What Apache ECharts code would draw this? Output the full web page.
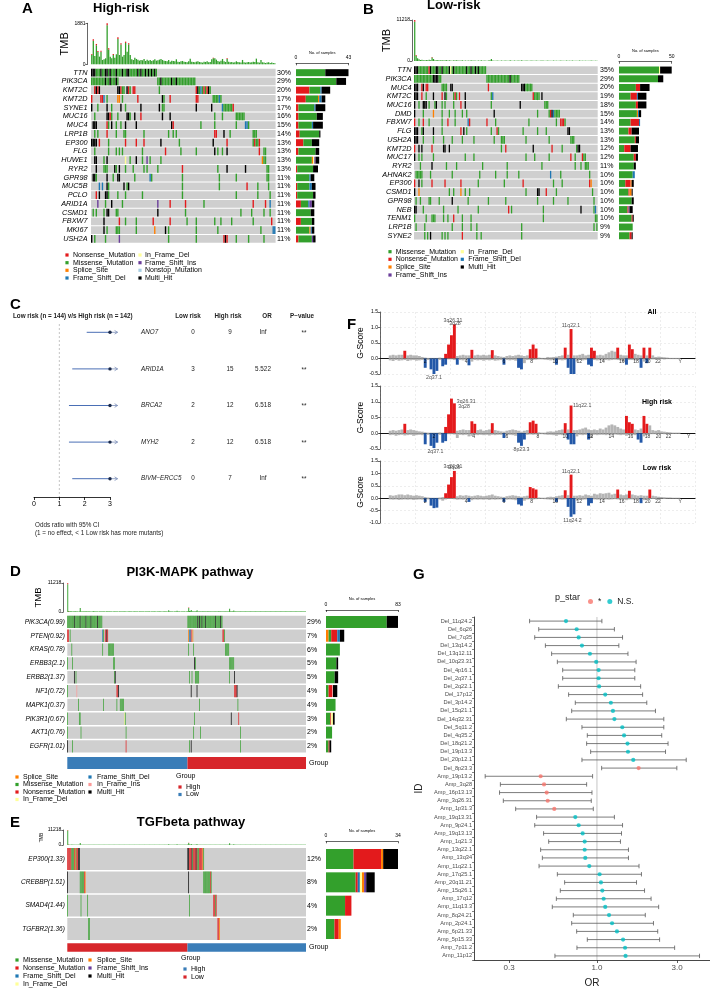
<!DOCTYPE html>
<html>
<head>
<meta charset="utf-8">
<title>Mutation landscape</title>
<script src="https://cdn.jsdelivr.net/npm/echarts@6.0.0/dist/echarts.min.js"></script>
<style>
  html, body { margin: 0; padding: 0; background: #fff; }
  #chart { width: 710px; height: 991px; }
</style>
</head>
<body>
<div id="chart"></div>
<script>
// ---------- colours / codes ----------
// m missense, n nonsense, s splice, d frame-shift del, i frame-shift ins,
// f in-frame del, g in-frame ins, t nonstop, k multi-hit
const COLORS = { m: '#33A02C', n: '#E31A1C', s: '#FF7F00', d: '#1F78B4', i: '#6A3D9A',
                 f: '#FFFF99', g: '#FB9A99', t: '#A6CEE3', k: '#000000' };
const CODES = 'mnsdifgtk';
const FF = '"Liberation Sans", Arial, Helvetica, sans-serif';

// ---------- A: High-risk oncoplot ----------
const genesA = ['TTN','PIK3CA','KMT2C','KMT2D','SYNE1','MUC16','MUC4','LRP1B','EP300','FLG',
                'HUWE1','RYR2','GPR98','MUC5B','PCLO','ARID1A','CSMD1','FBXW7','MKI67','USH2A'];
const pctA = ['30%','29%','20%','17%','17%','16%','15%','14%','13%','13%','13%','13%','11%','11%','11%','11%','11%','11%','11%','11%'];
const samplesA = 120;
const rowsA = [
  '0-42m 0-2k 6k 9-10k 12k 16k 20k 23-24k 30k 32k 35k 37k 39k 41k',
  '0-17m 9k 12k 16k 43-67m 45k 52k 55k',
  '2-5n 3k 5k 17-19k 19n 20-21m 23k 24n 25m 27-28n 44m 68-77m 68n 69k 71d 73n 74m 75n 76k',
  '0n 6-7n 8d 10m 17-18s 20m 30n 46k 47m 51n 68-69n 79-84m 83d',
  '0k 4m 10k 13m 19k 22m 32k 44k 46m 47m 68k 78k 85d 86-91m 92n',
  '2m 10-11k 12n 13m 17m 23-24k 25m 28k 32n 46k 51k 80m 85m 94-99m',
  '1-3k 10n 11m 13k 16m 19m 22k 29k 52k 53n 71m 80m 94m 100-101d 102m',
  '2m 4m 10n 16m 21m 22m 34m 50m 53m 55m 80n 81n 86k 90m 105-107m',
  '0-3k 5n 11m 22n 29n 34n 45k 57m 79k 88n 105-109m 106n 109n',
  '2m 11m 16m 18m 20m 33m 48n 58m 68m 80k 82m 85m 88k 109n 112-113m',
  '2k 3k 8m 10k 22f 25m 29k 33m 36i 38m 45m 111s 112-113m',
  '3k 8-10m 15k 16m 18k 22m 27m 34m 36m 43m 59n 82m 88k 100k 114-115m',
  '1-2k 3m 10k 14m 17-18k 28m 38d 39m 59m 83m 94m 114-115m',
  '5d 7d 10k 11m 21k 23m 24k 59m 83m 101n 108m 115m',
  '3n 5k 9-10k 11m 17m 22m 33m 59m 94m 108m 116m',
  '4i 9m 13k 20m 43i 51n 61n 73m 105n 113n 116d',
  '1m 3m 8m 10-11k 16m 17m 43k 61m 97m 104m 112m 116m',
  '8k 18n 22m 29m 40n 51n 62m 68m 80m 84m 91m 105m 117n',
  '8k 10m 16-18m 29m 41s 48k 50m 68m 82m 110m 118-119d',
  '0k 2m 9m 18i 50m 68m 86n 87k 88n 94m 102m 112m'
];
const tmbA = [
  474,1148,380,933,612,352,627,199,230,275,1881,734,352,275,474,300,459,1239,428,964,
  350,428,1040,581,964,428,230,199,306,245,214,168,199,184,245,153,214,168,199,153,
  184,230,168,184,214,245,199,168,153,138,199,122,168,153,138,230,122,107,138,153,
  122,107,92,138,260,122,107,92,122,138,107,92,77,122,107,138,92,107,230,306,
  275,214,153,122,168,245,138,107,275,122,92,107,77,92,138,107,92,77,199,92,
  77,92,107,77,92,122,107,260,92,77,199,92,77,61,77,92,61,77,61,46
];
// [sample, nonsense count] red tips of the TMB bars
const tmbCapA = [[0,40],[1,70],[3,60],[4,45],[6,50],[10,90],[11,50],[14,45],[17,75],[19,60],[22,60],[24,55],[79,30],[88,30]];
const nonsenseA = [0,0,11,8,2,2,2,3,6,2,0,1,0,1,1,4,0,4,0,2];
const missenseA = [24,33,9,10,13,15,11,16,7,14,13,13,11,10,13,6,12,9,11,11];
const spliceA   = [0,0,0,1,0,0,0,0,0,0,1,0,0,0,0,0,0,0,1,0];
const fsDelA    = [0,0,1,2,1,0,1,0,0,0,0,0,1,2,0,1,0,0,1,0];
const ifDelA    = [0,0,0,0,0,0,0,0,0,0,1,0,0,0,0,0,0,0,0,0];
const fsInsA    = [0,0,0,0,0,0,0,0,0,0,1,0,0,0,0,2,0,0,0,1];
const nonstopA  = [0,0,0,0,0,0,0,0,0,0,0,0,0,0,0,0,0,0,0,0];
const multiA    = [19,8,7,3,8,5,8,1,6,3,3,4,3,3,2,2,3,2,2,2];
const legendA = [['n','Nonsense_Mutation'],['m','Missense_Mutation'],['s','Splice_Site'],['d','Frame_Shift_Del'],
                 ['f','In_Frame_Del'],['i','Frame_Shift_Ins'],['t','Nonstop_Mutation'],['k','Multi_Hit']];

// ---------- B: Low-risk oncoplot ----------
const genesB = ['TTN','PIK3CA','MUC4','KMT2C','MUC16','DMD','FBXW7','FLG','USH2A','KMT2D',
                'MUC17','RYR2','AHNAK2','EP300','CSMD1','GPR98','NEB','TENM1','LRP1B','SYNE2'];
const pctB = ['35%','29%','20%','19%','18%','15%','14%','13%','13%','12%','12%','11%','10%','10%','10%','10%','10%','10%','9%','9%'];
const samplesB = 127;
const rowsB = [
  '0-49m 0-2k 10n 11k 15-16k 19k 24k 25f 27k 36k 39k 42k 44k',
  '0-18m 13-16k 50-72m 66k',
  '0-2k 5n 6k 8-9n 19-22m 25-26k 51n 74-76k 77-81m',
  '0-2k 5n 8m 13k 19n 21k 22m 27-29m 28n 31n 35k 53m 54d 82n 83-86m 88k',
  '0k 3m 6-8k 10m 14m 15k 19m 21m 27m 32n 35k 53m 73k 90-92m',
  '0k 6m 13s 19m 24m 28m 33m 36m 55k 85m 93-100m 94n 95k 96d',
  '0n 3m 6n 10m 19m 23n 28m 37d 38n 50n 56m 79m 98m 101-103n 104m',
  '0-2k 5m 6k 13k 19m 32n 34k 36m 53m 57n 58m 75m 85m 91m 106-107k',
  '0-2k 6m 13m 20m 26m 33m 41m 55m 60-62m 77m 93m 108-110m',
  '0n 3k 5k 12n 20k 21k 24k 60m 63n 82k 95n 102m 112m 113-114k',
  '0k 3m 5m 13m 35m 41m 77m 83m 93m 108n 111m 116n 117-118m',
  '4m 12k 22m 29m 47m 64m 88m 111m 115m 118-120m',
  '1-5m 11m 26m 45m 56m 64m 72m 94d 101m 121m',
  '0n 3k 5m 12n 21n 32n 44m 62m 75n 96m 102m 121n 122s',
  '0k 3s 24m 27m 32s 35m 38m 77m 85-86k 91n 98m 123m',
  '1m 4m 10-11m 17m 26k 37m 51m 63m 85m 96m 106m 124m',
  '0-1k 6m 20m 30m 44m 65n 67m 89m 115k 124m 125d',
  '0m 8m 12-14m 20m 23m 27n 33m 39m 89m 125-126m',
  '1m 7m 26m 33m 39m 43m 74m 124m 126m',
  '7m 9m 11k 19m 21m 23m 33n 43m 46m 74m'
];
const tmbB = [
  11218,1640,730,456,274,365,182,228,274,182,319,228,1094,547,228,182,274,137,228,182,
  137,182,228,137,182,137,91,182,137,228,137,91,137,182,91,137,91,137,91,182,
  91,137,91,91,137,91,182,91,137,91,91,137,182,547,137,91,91,137,91,91,
  137,91,91,137,91,91,182,91,91,137,91,91,137,91,182,91,91,137,91,91,
  91,137,91,91,137,91,91,91,137,91,91,91,137,91,91,91,137,91,91,91,
  91,137,91,91,91,137,91,91,91,137,91,91,91,91,137,91,91,91,91,91,
  91,91,137,91,91,91,91
];
const tmbCapB = [[0,450],[1,180],[12,120]];
const missenseB = [38,37,16,11,16,17,11,9,15,5,14,14,13,6,9,12,8,12,13,10];
const nonsenseB = [0,0,4,6,2,0,8,3,1,6,2,0,0,5,1,0,1,1,0,2];
const spliceB   = [0,0,0,0,0,1,0,0,0,0,0,0,0,1,2,0,0,0,0,0];
const fsInsB    = [0,0,0,0,0,0,0,0,0,0,0,0,0,0,0,0,1,0,0,0];
const ifDelB    = [1,0,0,0,0,0,0,0,0,0,0,0,0,0,0,0,0,0,0,0];
const fsDelB    = [0,0,0,1,0,1,1,0,0,0,0,0,2,0,0,0,0,0,0,0];
const multiB    = [11,5,9,8,8,2,0,7,3,7,2,2,0,2,1,2,3,1,0,1];
const legendB = [['m','Missense_Mutation'],['n','Nonsense_Mutation'],['s','Splice_Site'],['i','Frame_Shift_Ins'],
                 ['f','In_Frame_Del'],['d','Frame_Shift_Del'],['k','Multi_Hit']];

// ---------- C: forest plot ----------
const genesC = ['ANO7','ARID1A','BRCA2','MYH2','BIVM\u2212ERCC5'];
const lowC = [0,3,2,2,0];
const highC = [9,15,12,12,7];
const orC = [Infinity,5.522,6.518,6.518,Infinity];
const orTextC = ['Inf','5.522','6.518','6.518','Inf'];
const ciLoC = [2.08,1.51,1.38,1.38,1.51];
const pC = ['**','**','**','**','**'];

// ---------- D/E: pathway oncoplots (286 samples, Low group first) ----------
const samplesPath = 286;
const groupOrder = ['Low','High'];
const groupSize = [144,142];
const tmbPath = [
  11218,420,180,250,160,300,140,220,190,260,150,170,230,140,180,1500,200,160,240,150,
  180,210,260,170,150,190,230,160,140,200,170,250,150,180,220,160,190,140,210,170,
  150,230,190,160,200,140,180,250,170,150,210,160,190,230,140,170,200,150,180,160,
  220,140,170,190,150,240,160,180,200,150,170,140,210,160,190,150,230,170,140,200,
  160,180,150,210,170,140,190,160,220,150,180,170,140,200,160,190,150,230,170,140,
  180,160,210,150,170,190,140,220,160,180,150,200,170,140,190,160,210,150,180,170,
  140,630,160,190,150,200,170,140,180,160,210,520,150,170,190,140,200,160,180,150,
  170,140,190,160,300,1760,420,250,756,200,260,180,230,200,310,640,190,220,170,240,
  200,180,260,150,210,190,230,170,250,160,200,220,180,240,170,190,210,160,230,180,
  200,250,170,190,220,160,200,180,240,170,190,210,160,230,1260,200,180,250,170,600,
  190,220,160,200,180,230,170,210,190,160,240,180,200,170,220,190,160,210,180,230,
  170,200,190,160,210,180,230,170,200,160,190,220,170,240,180,200,160,210,190,170,
  230,180,200,160,220,190,170,210,180,240,160,200,190,170,230,180,210,160,200,190,
  170,220,180,200,160,230,190,170,210,180,200,160,240,170,190,220,180,160,210,200,
  170,190,160,220,180,200
];
const tmbCapPath = [[0,450],[1,150],[145,200]];
const genesD = ['PIK3CA(0.99)','PTEN(0.92)','KRAS(0.78)','ERBB3(2.1)','ERBB2(1.37)','NF1(0.72)',
                'MAPK1(0.37)','PIK3R1(0.67)','AKT1(0.76)','EGFR(1.01)'];
const pctD = ['29%','7%','6%','5%','5%','4%','4%','3%','2%','2%'];
const rowsD = [
  '0-41m 8k 15k 22k 28k 36k 144-185m 156k 158k 161k 165k 177k 183k',
  '0-1n 3m 42d 43m 45-46n 47k 48n 145s 146-147d 148n 150s 186-187n 188m',
  '5m 42m 49-55m 145m 151m 189-193m',
  '0m 6m 55-56m 152k 153m 194-199m',
  '8k 10m 56m 57k 146m 149m 153-157m 194m 200k',
  '0m 11g 59-60n 61k 148k 155k 200-202n 203k',
  '13m 43m 59m 63-67m 158m 204m',
  '0m 14-15m 68f 69m 152m 196k 205n',
  '0m 16m 70m 151m 159m 207m',
  '0k 6m 70n 146m 148k 207m'
];
const spliceD   = [0,3,0,0,0,0,0,0,0,0];
const missenseD = [70,3,16,12,10,3,11,5,7,3];
const nonsenseD = [0,7,0,0,0,4,0,1,0,1];
const ifDelD    = [0,0,0,0,0,0,0,2,0,0];
const fsDelD    = [0,3,0,0,0,0,0,0,0,0];
const ifInsD    = [0,0,0,0,0,1,0,0,0,0];
const multiD    = [13,5,0,2,4,5,0,2,0,2];
const legendD = [['s','Splice_Site'],['m','Missense_Mutation'],['n','Nonsense_Mutation'],['f','In_Frame_Del'],
                 ['d','Frame_Shift_Del'],['g','In_Frame_Ins'],['k','Multi_Hit']];
const groupColorD = { High: '#D7262B', Low: '#3A7DB8' };

const genesE = ['EP300(1.33)','CREBBP(1.51)','SMAD4(1.44)','TGFBR2(1.36)'];
const pctE = ['12%','8%','4%','2%'];
const rowsE = [
  '0-4n 5-7m 8n 9s 10m 11-12n 13-14k 144-145k 146-148n 149k 150m 151-153n 154k 155n 156-157m 158-161n 162s 163m',
  '0k 15-19m 20n 21s 145k 163-170m 171n 172m',
  '0m 16m 24m 146m 175-176n 177m 178n',
  '25-26m 180-181n 182s'
];
const missenseE = [13,14,9,4];
const nonsenseE = [13,1,3,2];
const fsDelE    = [0,1,0,0];
const ifDelE    = [0,1,0,0];
const spliceE   = [1,1,0,1];
const fsInsE    = [0,1,0,0];
const multiE    = [7,4,0,0];
const legendE = [['m','Missense_Mutation'],['n','Nonsense_Mutation'],['d','Frame_Shift_Del'],['f','In_Frame_Del'],
                 ['s','Splice_Site'],['i','Frame_Shift_Ins'],['k','Multi_Hit']];
const groupColorE = { High: '#3A7DB8', Low: '#D7262B' };

// ---------- F: GISTIC G-scores, 100 genome bins ----------
const gAmpAll = [
  0.10,0.12,0.10,0.12,0.12,0.25,0.10,0.12,0.10,0.10, 0.08,0.05,0.03,0.02,0.02,0.02,0.02,0.03,0.02,0.15,
  0.45,0.75,1.10,0.08,0.10,0.12,0.10,0.10,0.28,0.10, 0.12,0.10,0.12,0.10,0.12,0.27,0.10,0.08,0.06,0.05,
  0.08,0.10,0.08,0.10,0.12,0.10,0.08,0.10,0.30,0.45, 0.32,0.03,0.02,0.02,0.05,0.04,0.05,0.06,0.08,0.10,
  0.35,0.12,0.95,0.10,0.10,0.12,0.15,0.10,0.12,0.35, 0.25,0.10,0.12,0.10,0.15,0.20,0.25,0.22,0.35,0.12,
  0.10,0.10,0.45,0.30,0.15,0.12,0.10,0.35,0.10,0.35, 0.10,0.05,0.06,0.05,0.04,0.03,0.02,0.02,0.02,0.02
];
const gDelAll = [
  -0.06,-0.08,-0.05,-0.07,-0.06,-0.05,-0.08,-0.06,-0.05,-0.07, -0.06,-0.05,-0.30,-0.05,-0.35,-0.50,-0.40,-0.05,-0.25,-0.20,
  -0.03,-0.03,-0.05,-0.20,-0.05,-0.06,-0.05,-0.22,-0.10,-0.05, -0.06,-0.05,-0.07,-0.05,-0.06,-0.05,-0.07,-0.06,-0.05,-0.20,
  -0.05,-0.06,-0.05,-0.07,-0.30,-0.35,-0.15,-0.05,-0.04,-0.05, -0.04,-0.03,-0.03,-0.04,-0.05,-0.06,-0.05,-0.20,-0.05,-0.06,
  -0.05,-0.30,-0.55,-0.50,-0.10,-0.05,-0.06,-0.05,-0.20,-0.25, -0.05,-0.06,-0.05,-0.07,-0.05,-0.06,-0.05,-0.04,-0.05,-0.06,
  -0.10,-0.20,-0.05,-0.05,-0.06,-0.05,-0.30,-0.10,-0.15,-0.03, -0.03,-0.03,-0.02,-0.02,-0.03,-0.02,-0.02,-0.02,-0.02,-0.02
];
const sigAmpAll = [5,19,20,21,22,28,35,48,49,50,60,62,69,70,78,82,83,87,89];
const sigDelAll = [12,14,15,16,18,19,23,27,39,44,45,57,61,62,63,68,69,81,86,88];

const gAmpHigh = [
  0.08,0.10,0.08,0.10,0.12,0.30,0.10,0.12,0.10,0.08, 0.06,0.05,0.03,0.02,0.02,0.02,0.02,0.03,0.02,0.20,
  0.60,1.10,0.95,0.08,0.10,0.12,0.10,0.10,0.38,0.30, 0.10,0.12,0.08,0.10,0.12,0.32,0.10,0.08,0.06,0.05,
  0.08,0.10,0.12,0.10,0.08,0.05,0.08,0.10,0.35,0.40, 0.30,0.03,0.02,0.02,0.05,0.06,0.05,0.08,0.10,0.12,
  0.32,0.12,0.88,0.10,0.10,0.12,0.15,0.18,0.12,0.10, 0.12,0.10,0.15,0.12,0.18,0.25,0.28,0.25,0.20,0.15,
  0.12,0.55,0.35,0.30,0.12,0.10,0.15,0.55,0.30,0.25, 0.10,0.08,0.10,0.06,0.05,0.04,0.03,0.02,0.02,0.02
];
const gDelHigh = [
  -0.06,-0.05,-0.08,-0.06,-0.05,-0.07,-0.06,-0.05,-0.08,-0.06, -0.05,-0.06,-0.35,-0.05,-0.40,-0.47,-0.30,-0.05,-0.30,-0.25,
  -0.03,-0.03,-0.04,-0.15,-0.05,-0.06,-0.05,-0.10,-0.08,-0.05, -0.06,-0.05,-0.06,-0.05,-0.07,-0.05,-0.06,-0.05,-0.05,-0.15,
  -0.06,-0.05,-0.06,-0.08,-0.30,-0.40,-0.20,-0.05,-0.04,-0.05, -0.04,-0.03,-0.03,-0.04,-0.05,-0.05,-0.06,-0.08,-0.05,-0.06,
  -0.05,-0.20,-0.35,-0.35,-0.10,-0.05,-0.06,-0.05,-0.20,-0.15, -0.05,-0.06,-0.05,-0.05,-0.06,-0.05,-0.05,-0.04,-0.05,-0.06,
  -0.05,-0.08,-0.05,-0.05,-0.06,-0.20,-0.30,-0.10,-0.05,-0.03, -0.03,-0.03,-0.02,-0.02,-0.03,-0.02,-0.02,-0.02,-0.02,-0.02
];
const sigAmpHigh = [5,19,20,21,22,28,29,35,48,49,50,60,62,81,82,83,87,88];
const sigDelHigh = [12,14,15,16,18,19,39,44,45,46,61,62,63,68,85,86];

const gAmpLow = [
  0.12,0.10,0.12,0.15,0.15,0.12,0.15,0.12,0.10,0.12, 0.10,0.08,0.05,0.03,0.02,0.02,0.02,0.03,0.05,0.20,
  0.55,0.85,1.10,0.08,0.12,0.10,0.12,0.10,0.08,0.10, 0.12,0.10,0.08,0.10,0.12,0.15,0.10,0.08,0.06,0.05,
  0.08,0.10,0.12,0.10,0.08,0.06,0.08,0.10,0.45,0.40, 0.35,0.03,0.02,0.02,0.05,0.06,0.05,0.08,0.10,0.12,
  0.32,0.12,0.95,0.10,0.10,0.12,0.10,0.15,0.12,0.10, 0.18,0.15,0.20,0.18,0.20,0.22,0.15,0.18,0.35,0.15,
  0.12,0.15,0.30,0.15,0.12,0.10,0.12,0.10,0.10,0.35, 0.10,0.08,0.06,0.05,0.04,0.03,0.03,0.02,0.02,0.02
];
const gDelLow = [
  -0.05,-0.06,-0.05,-0.07,-0.06,-0.05,-0.06,-0.05,-0.07,-0.06, -0.05,-0.06,-0.15,-0.05,-0.30,-0.40,-0.38,-0.05,-0.10,-0.05,
  -0.03,-0.03,-0.04,-0.06,-0.05,-0.06,-0.05,-0.15,-0.08,-0.05, -0.06,-0.05,-0.06,-0.05,-0.07,-0.05,-0.06,-0.05,-0.05,-0.15,
  -0.06,-0.05,-0.06,-0.08,-0.25,-0.30,-0.10,-0.05,-0.04,-0.05, -0.04,-0.03,-0.03,-0.04,-0.05,-0.06,-0.05,-0.15,-0.05,-0.06,
  -0.05,-0.35,-0.75,-0.65,-0.10,-0.05,-0.06,-0.05,-0.30,-0.20, -0.05,-0.06,-0.05,-0.07,-0.05,-0.06,-0.05,-0.04,-0.05,-0.06,
  -0.05,-0.08,-0.05,-0.05,-0.06,-0.05,-0.20,-0.08,-0.05,-0.03, -0.03,-0.03,-0.02,-0.02,-0.03,-0.02,-0.02,-0.02,-0.02,-0.02
];
const sigAmpLow = [19,20,21,22,48,49,50,60,62,78,82,89];
const sigDelLow = [12,14,15,16,27,39,44,45,57,61,62,63,68,69,86];

const chromLab = ['2','4','6','8','10','12','14','16','18','20','22','Y'];
const chromPosAll = [12,26,39,48.5,56.6,64.8,72.6,79.4,84.3,88.3,91.8,99.4];
const chromPosHigh = [15,28.6,40,50.6,60,68.6,75.8,82.4,88.2,92,95.4,102.3];
// [bin, G-score, text, label side]
const notesAll = [[21.5,1.12,'3q26.31','top'],[22.2,1.02,'3q28','top'],[62,0.95,'11q22.1','top'],[15,-0.5,'2q37.1','bottom'],[62.5,-0.55,'11q24.2','bottom']];
const notesHigh = [[22.5,1.0,'3q26.31','right'],[23,0.85,'3q28','right'],[62.3,0.88,'11q22.1','right'],[15.5,-0.47,'2q37.1','bottom'],[45,-0.4,'8p23.3','bottom']];
const notesLow = [[21.5,1.12,'3q26.31','top'],[22,1.1,'3q28','top'],[62,0.95,'11q22.1','top'],[62.5,-0.75,'11q24.2','bottom']];

// ---------- G: CNV odds ratios ----------
const idG = ['Del_11q24.2','Del_6q26','Del_7q35','Del_13q14.2','Del_13q12.11','Del_10q23.31','Del_4p16.1','Del_2q37.1',
  'Del_2q22.1','Del_17p12','Del_3p14.2','Del_15q21.1','Del_14q32.31','Del_5q11.2','Del_4q35.2','Del_18q21.2',
  'Del_19p13.3','Del_20p12.1','Del_8p23.3','Amp_19p13.2','Amp_3q28','Amp_16p13.13','Amp_3q26.31','Amp_1p31.3',
  'Amp_19q13.31','Amp_9p24.1','Amp_19q13.13','Amp_1q21.3','Amp_13q22.1','Amp_13q34','Amp_11q22.1','Amp_17q25.1',
  'Amp_20q11.21','Amp_15q26.1','Amp_17q12','Amp_11q13.3','Amp_8q24.21','Amp_2p24.1','Amp_6p21.33','Amp_5p15.33',
  'Amp_7p11.2','Amp_11p12'];
const orG = [0.654,0.757,0.778,0.814,0.908,0.99,1.023,1.023,1.03,1.12,1.21,1.245,1.27,1.415,1.45,1.52,1.53,1.645,1.77,
  0.462,0.484,0.502,0.509,0.557,0.743,0.778,0.822,0.845,0.845,0.852,0.90,1.037,1.056,1.076,1.096,1.12,1.18,1.23,1.315,1.43,1.47,1.48];
const loG = [0.397,0.450,0.426,0.493,0.537,0.581,0.625,0.625,0.589,0.678,0.743,0.707,0.657,0.814,0.876,0.868,0.917,0.814,1.066,
  0.216,0.266,0.263,0.277,0.328,0.437,0.426,0.481,0.516,0.462,0.473,0.452,0.581,0.642,0.605,0.573,0.542,0.723,0.707,0.757,0.876,0.760,0.562];
const hiG = [1.07,1.27,1.42,1.35,1.53,1.71,1.68,1.68,1.82,1.87,1.98,2.23,2.50,2.50,2.43,2.65,2.56,3.40,2.99,
  0.942,0.868,0.934,0.925,0.951,1.27,1.42,1.40,1.38,1.54,1.54,1.78,1.84,1.72,1.92,2.10,2.33,1.94,2.17,2.30,2.36,2.90,4.08];
const starG = ['N.S.','N.S.','N.S.','N.S.','N.S.','N.S.','N.S.','N.S.','N.S.','N.S.','N.S.','N.S.','N.S.','N.S.','N.S.','N.S.',
  'N.S.','N.S.','*','*','*','*','*','*','N.S.','N.S.','N.S.','N.S.','N.S.','N.S.','N.S.','N.S.','N.S.','N.S.','N.S.','N.S.',
  'N.S.','N.S.','N.S.','N.S.','N.S.','N.S.'];
const xTicksG = [0.3, 1, 3];

// ================= build =================
const grid = [], xAxis = [], yAxis = [], series = [], graphic = [];
function addGrid(g) { grid.push(g); return grid.length - 1; }
function addX(a) { xAxis.push(a); return xAxis.length - 1; }
function addY(a) { yAxis.push(a); return yAxis.length - 1; }
function T(x, y, text, o) {
  o = o || {};
  return { type: 'text', x: x, y: y, rotation: o.rot || 0, silent: true, z: 10,
    style: { text: text, fill: o.color || '#000', fontSize: o.size || 7, fontFamily: FF,
      fontWeight: o.weight || 'normal', fontStyle: o.style || 'normal',
      align: o.align || 'left', verticalAlign: o.va || 'middle' } };
}
function parseRow(str) {
  const cells = {};
  str.trim().split(/\s+/).forEach(tok => {
    const m = tok.match(/^(\d+)(?:-(\d+))?([a-z])$/);
    const a = +m[1], b = m[2] ? +m[2] : a;
    for (let c = a; c <= b; c++) cells[c] = m[3];
  });
  return cells;
}
const thinAxis = { show: true, lineStyle: { color: '#000', width: 0.6 } };
const plain = v => String(v);

function oncoplot(p) {
  // TMB bars (green body + red nonsense tip)
  const gT = addGrid({ left: p.x, top: p.tmbTop, width: p.w, height: p.tmbH });
  const xT = addX({ gridIndex: gT, type: 'category', data: p.tmb.map((v, i) => i), show: false });
  const yT = addY({ gridIndex: gT, type: 'value', min: 0, max: p.tmbMax, interval: p.tmbMax, offset: p.tmbOffset,
    axisLine: thinAxis, axisTick: { show: true, length: 2, lineStyle: { color: '#000', width: 0.6 } },
    splitLine: { show: false }, axisLabel: { fontSize: 5, margin: 2, color: '#000', fontFamily: FF, formatter: plain },
    name: 'TMB', nameLocation: 'middle', nameRotate: 90, nameGap: p.tmbNameGap,
    nameTextStyle: { fontSize: p.tmbNameSize, color: '#000', fontFamily: FF } });
  const cap = {};
  p.tmbCap.forEach(c => { cap[c[0]] = c[1]; });
  series.push({ type: 'bar', xAxisIndex: xT, yAxisIndex: yT, stack: 'tmb' + gT, barCategoryGap: '15%',
    data: p.tmb.map((v, i) => v - (cap[i] || 0)), itemStyle: { color: COLORS.m } });
  series.push({ type: 'bar', xAxisIndex: xT, yAxisIndex: yT, stack: 'tmb' + gT, barCategoryGap: '15%',
    data: p.tmb.map((v, i) => cap[i] || 0), itemStyle: { color: COLORS.n } });

  // mutation matrix
  const gM = addGrid({ left: p.x, top: p.matTop, width: p.w, height: p.matH });
  const xM = addX({ gridIndex: gM, type: 'value', min: 0, max: p.n, show: false });
  const yM = addY({ gridIndex: gM, type: 'category', data: p.genes, inverse: true,
    axisLine: { show: false }, axisTick: { show: false },
    axisLabel: { interval: 0, fontSize: p.geneSize, fontStyle: 'italic', color: '#000', margin: p.geneMargin, fontFamily: FF } });
  series.push({ type: 'custom', xAxisIndex: xM, yAxisIndex: yM, data: p.genes.map((g, i) => [0, i]),
    renderItem: (params, api) => {
      const r = api.value(1);
      const a = api.coord([0, r]), b = api.coord([p.n, r]), h = api.size([0, 1])[1];
      return { type: 'rect', shape: { x: a[0], y: a[1] - h / 2 + p.gap / 2, width: b[0] - a[0], height: h - p.gap },
        style: { fill: '#CFCFCF' } };
    } });
  const cells = [];
  p.rows.forEach((str, r) => {
    const m = parseRow(str);
    Object.keys(m).forEach(c => cells.push([+c, r, CODES.indexOf(m[c])]));
  });
  series.push({ type: 'custom', xAxisIndex: xM, yAxisIndex: yM, data: cells,
    renderItem: (params, api) => {
      const c = api.value(0), r = api.value(1);
      const a = api.coord([c, r]), b = api.coord([c + 1, r]), h = api.size([0, 1])[1];
      return { type: 'rect', shape: { x: a[0], y: a[1] - h / 2 + p.gap / 2, width: Math.max(b[0] - a[0] - 0.15, 0.7), height: h - p.gap },
        style: { fill: COLORS[CODES[api.value(2)]] } };
    } });

  // sample-count bars
  const gB = addGrid({ left: p.barX, top: p.matTop, width: p.barW, height: p.matH });
  const xB = addX({ gridIndex: gB, type: 'value', position: 'top', min: 0, max: p.barMax, interval: p.barMax, offset: p.barOffset,
    axisLine: thinAxis, axisTick: { show: true, inside: true, length: 2, lineStyle: { color: '#000', width: 0.6 } },
    splitLine: { show: false }, axisLabel: { fontSize: 5, margin: 3, color: '#000', fontFamily: FF, formatter: plain },
    name: 'No. of samples', nameLocation: 'middle', nameGap: 2.5, nameTextStyle: { fontSize: 4, color: '#000', fontFamily: FF } });
  const yB = addY({ gridIndex: gB, type: 'category', data: p.pct, inverse: true,
    axisLine: { show: false }, axisTick: { show: false },
    axisLabel: { interval: 0, fontSize: p.pctSize, color: '#000', align: 'left', margin: 19, fontFamily: FF } });
  p.bars.forEach(b => series.push({ type: 'bar', xAxisIndex: xB, yAxisIndex: yB, stack: 'cnt' + gB,
    data: b[1], barWidth: p.barThick, itemStyle: { color: COLORS[b[0]] } }));

  // group annotation
  if (p.groupColor) {
    const gG = addGrid({ left: p.x, top: p.grpTop, width: p.w, height: p.grpH });
    const xG = addX({ gridIndex: gG, type: 'value', min: 0, max: p.n, show: false });
    const yG = addY({ gridIndex: gG, type: 'category', data: ['Group'], position: 'right',
      axisLine: { show: false }, axisTick: { show: false },
      axisLabel: { fontSize: 7, color: '#000', margin: 3, fontFamily: FF } });
    let start = 0;
    const segs = groupOrder.map((g, k) => { const s = [start, start + groupSize[k], k]; start += groupSize[k]; return s; });
    series.push({ type: 'custom', xAxisIndex: xG, yAxisIndex: yG, data: segs, encode: { x: [0, 1] },
      renderItem: (params, api) => {
        const cs = params.coordSys;
        const a = api.coord([api.value(0), 0]), b = api.coord([api.value(1), 0]);
        return { type: 'rect', shape: { x: a[0], y: cs.y, width: b[0] - a[0], height: cs.height },
          style: { fill: p.groupColor[groupOrder[api.value(2)]] } };
      } });
  }
}

function mutLegend(items, cols, rowsY, size) {
  items.forEach((it, k) => {
    const col = cols[Math.floor(k / 4)], y = rowsY[k % 4];
    graphic.push({ type: 'rect', silent: true, shape: { x: col[0] - 1.6, y: y - 1.6, width: 3.2, height: 3.2 }, style: { fill: COLORS[it[0]] } });
    graphic.push(T(col[1], y, it[1], { size: size }));
  });
}
function groupLegend(colors, x, titleY, ys) {
  graphic.push(T(x - 4, titleY, 'Group', { size: 7 }));
  ['High', 'Low'].forEach((g, k) => {
    graphic.push({ type: 'rect', silent: true, shape: { x: x - 1.6, y: ys[k] - 1.6, width: 3.2, height: 3.2 }, style: { fill: colors[g] } });
    graphic.push(T(x + 6, ys[k], g, { size: 7 }));
  });
}

// ----- A -----
graphic.push(T(22, 9, 'A', { size: 15, weight: 'bold' }));
graphic.push(T(93, 8, 'High-risk', { size: 13, weight: 'bold' }));
oncoplot({ x: 91, w: 184.6, tmbTop: 23.3, tmbH: 41, tmbOffset: 3.5, tmbNameGap: 9, tmbNameSize: 11, tmb: tmbA, tmbCap: tmbCapA, tmbMax: 1881,
  matTop: 68.3, matH: 175, n: samplesA, genes: genesA, rows: rowsA, geneSize: 7.3, geneMargin: 3.5, gap: 1,
  barX: 296, barW: 52.5, barMax: 43, barOffset: 5, barThick: 7, pct: pctA, pctSize: 7,
  bars: [['n', nonsenseA], ['m', missenseA], ['s', spliceA], ['d', fsDelA], ['f', ifDelA], ['i', fsInsA], ['t', nonstopA], ['k', multiA]] });
mutLegend(legendA, [[67, 73], [140, 145]], [255, 262.7, 270.3, 278], 7);

// ----- B -----
graphic.push(T(363, 10, 'B', { size: 15, weight: 'bold' }));
graphic.push(T(427, 5, 'Low-risk', { size: 13, weight: 'bold' }));
oncoplot({ x: 414, w: 183.7, tmbTop: 20, tmbH: 41, tmbOffset: 2, tmbNameGap: 9, tmbNameSize: 11, tmb: tmbB, tmbCap: tmbCapB, tmbMax: 11218,
  matTop: 65.7, matH: 174.4, n: samplesB, genes: genesB, rows: rowsB, geneSize: 7.3, geneMargin: 2.5, gap: 1,
  barX: 619, barW: 52.7, barMax: 50, barOffset: 4, barThick: 7, pct: pctB, pctSize: 7,
  bars: [['m', missenseB], ['n', nonsenseB], ['s', spliceB], ['i', fsInsB], ['f', ifDelB], ['d', fsDelB], ['k', multiB]] });
mutLegend(legendB, [[390, 395.7], [462.3, 468.3]], [251.7, 259.3, 267, 275], 7);

// ----- C -----
graphic.push(T(10, 305, 'C', { size: 15, weight: 'bold' }));
graphic.push(T(13, 316, 'Low risk (n = 144) v/s High risk (n = 142)', { size: 6.3, weight: 'bold', color: '#222' }));
[['Low risk', 188], ['High risk', 228], ['OR', 267], ['P\u2212value', 302]].forEach(h =>
  graphic.push(T(h[1], 316, h[0], { size: 6.3, weight: 'bold', color: '#222', align: 'center' })));
graphic.push(T(35, 525, 'Odds ratio with 95% CI', { size: 6.3, color: '#222' }));
graphic.push(T(35, 533.5, '(1 = no effect, < 1 Low risk has more mutants)', { size: 6.3, color: '#222' }));
(function () {
  const g = addGrid({ left: 34, top: 314, width: 76, height: 183 });
  const x = addX({ gridIndex: g, type: 'value', min: 0, max: 3, interval: 1,
    axisLine: { show: true, lineStyle: { color: '#000', width: 0.8 } },
    axisTick: { show: true, length: 3, lineStyle: { color: '#000', width: 0.8 } },
    axisLabel: { fontSize: 7, margin: 4, color: '#000', fontFamily: FF }, splitLine: { show: false } });
  const y = addY({ gridIndex: g, type: 'category', data: genesC, inverse: true, show: false });
  series.push({ type: 'custom', xAxisIndex: x, yAxisIndex: y, data: genesC.map((gn, i) => [ciLoC[i], i]),
    renderItem: (params, api) => {
      const i = params.dataIndex, cs = params.coordSys;
      const yy = api.coord([0, i])[1];
      const xLo = api.coord([ciLoC[i], i])[0], x3 = api.coord([3, i])[0], xA = api.coord([3.3, i])[0];
      const xP = api.coord([Math.min(orC[i], 3), i])[0];
      const x1 = api.coord([1, i])[0];
      const c = '#4A6FB5';
      const kids = [
        { type: 'line', shape: { x1: xLo, y1: yy, x2: x3, y2: yy }, style: { stroke: c, lineWidth: 1 } },
        { type: 'line', shape: { x1: x3, y1: yy, x2: xA, y2: yy }, style: { stroke: '#7a8db8', lineWidth: 0.8 } },
        { type: 'polyline', shape: { points: [[xA - 3, yy - 1.8], [xA, yy], [xA - 3, yy + 1.8]] }, style: { stroke: '#7a8db8', fill: null, lineWidth: 0.8 } },
        { type: 'circle', shape: { cx: xP, cy: yy, r: 1.7 }, style: { fill: '#1B2A4A' } },
        T(141, yy, genesC[i], { size: 6.3, style: 'italic', color: '#222' }),
        T(193, yy, String(lowC[i]), { size: 6.3, color: '#222', align: 'center' }),
        T(230, yy, String(highC[i]), { size: 6.3, color: '#222', align: 'center' }),
        T(263, yy, orTextC[i], { size: 6.3, color: '#222', align: 'center' }),
        T(304, yy + 1, pC[i], { size: 6.3, color: '#222', align: 'center' })
      ];
      if (i === 0) kids.unshift({ type: 'line', shape: { x1: x1, y1: cs.y + 10, x2: x1, y2: cs.y + cs.height },
        style: { stroke: '#aaa', lineWidth: 0.7, lineDash: [2, 2] } });
      return { type: 'group', children: kids };
    } });
})();

// ----- D -----
graphic.push(T(10, 572, 'D', { size: 15, weight: 'bold' }));
graphic.push(T(190, 572, 'PI3K-MAPK pathway', { size: 13, weight: 'bold', align: 'center' }));
oncoplot({ x: 67.3, w: 238.7, tmbTop: 583, tmbH: 29, tmbOffset: 4, tmbNameGap: 7, tmbNameSize: 9.5, tmb: tmbPath, tmbCap: tmbCapPath, tmbMax: 11218,
  matTop: 615, matH: 138.3, n: samplesPath, genes: genesD, rows: rowsD, geneSize: 6.5, geneMargin: 2.5, gap: 1.5,
  barX: 326, barW: 72, barMax: 83, barOffset: 5, barThick: 12, pct: pctD, pctSize: 7,
  bars: [['s', spliceD], ['m', missenseD], ['n', nonsenseD], ['f', ifDelD], ['d', fsDelD], ['g', ifInsD], ['k', multiD]],
  groupColor: groupColorD, grpTop: 757, grpH: 12 });
mutLegend(legendD, [[17, 23], [90, 97]], [777, 784.5, 792, 799.5], 7);
groupLegend(groupColorD, 180, 776, [787, 794.5]);

// ----- E -----
graphic.push(T(10, 823, 'E', { size: 15, weight: 'bold' }));
graphic.push(T(191, 822, 'TGFbeta pathway', { size: 13, weight: 'bold', align: 'center' }));
oncoplot({ x: 67.3, w: 238.7, tmbTop: 830, tmbH: 15, tmbOffset: 4, tmbNameGap: 6, tmbNameSize: 4.5, tmb: tmbPath, tmbCap: tmbCapPath, tmbMax: 11218,
  matTop: 847.3, matH: 93.4, n: samplesPath, genes: genesE, rows: rowsE, geneSize: 6.5, geneMargin: 2.5, gap: 1.5,
  barX: 326, barW: 72, barMax: 34, barOffset: 6, barThick: 20, pct: pctE, pctSize: 7,
  bars: [['m', missenseE], ['n', nonsenseE], ['d', fsDelE], ['f', ifDelE], ['s', spliceE], ['i', fsInsE], ['k', multiE]],
  groupColor: groupColorE, grpTop: 943.3, grpH: 8.4 });
mutLegend(legendE, [[17, 23], [90, 97]], [960, 968, 976, 984], 7);
groupLegend(groupColorE, 185, 958, [969, 977]);

// ----- F -----
graphic.push(T(347, 325, 'F', { size: 15, weight: 'bold' }));
const X0 = 3.5;
function gscore(p) {
  const g = addGrid({ left: 380, top: p.top, width: 315, height: p.height });
  const x = addX({ gridIndex: g, type: 'value', min: 0, max: 108, interval: 12,
    axisLine: { onZero: true, lineStyle: { color: '#111', width: 1.1 } }, axisTick: { show: false },
    axisLabel: { show: false }, splitLine: { show: true, lineStyle: { type: [2, 2], color: '#e2e2e2', width: 0.6 } } });
  const y = addY({ gridIndex: g, type: 'value', min: p.min, max: 1.5, interval: 0.5,
    axisLine: thinAxis, axisTick: { show: true, length: 2, lineStyle: { color: '#000', width: 0.6 } },
    axisLabel: { fontSize: 5, margin: 2, color: '#000', fontFamily: FF, formatter: v => v.toFixed(1) },
    splitLine: { show: true, lineStyle: { type: [2, 2], color: '#e2e2e2', width: 0.6 } },
    name: 'G-Score', nameLocation: 'middle', nameRotate: 90, nameGap: 12,
    nameTextStyle: { fontSize: 8.5, color: '#000', fontFamily: FF } });
  series.push({ type: 'bar', xAxisIndex: x, yAxisIndex: y, barWidth: 2.9, barGap: '-100%',
    data: p.amp.map((v, i) => ({ value: [i + X0, v], itemStyle: { color: p.sigAmp.includes(i) ? '#E41A1C' : '#B5B5B5' } })) });
  series.push({ type: 'bar', xAxisIndex: x, yAxisIndex: y, barWidth: 2.9, barGap: '-100%',
    data: p.del.map((v, i) => ({ value: [i + X0, v], itemStyle: { color: p.sigDel.includes(i) ? '#2358A8' : '#B5B5B5' } })) });
  series.push({ type: 'scatter', xAxisIndex: x, yAxisIndex: y, symbolSize: 0, silent: true,
    data: p.chrom.map((v, i) => ({ value: [v + X0, 0], label: { formatter: chromLab[i] } })),
    label: { show: true, position: 'bottom', distance: 1, fontSize: 5, color: '#000', fontFamily: FF } });
  series.push({ type: 'scatter', xAxisIndex: x, yAxisIndex: y, symbolSize: 0, silent: true, z: 5,
    data: p.notes.map(n => ({ value: [n[0] + X0, n[1]], label: { formatter: n[2], position: n[3] } })),
    label: { show: true, distance: 1, fontSize: 5.2, color: '#222', fontFamily: FF } });
  graphic.push(T(p.titleX, p.titleY, p.title, { size: 7, weight: 'bold', align: 'center' }));
}
gscore({ top: 312, height: 62, min: -0.5, amp: gAmpAll, del: gDelAll, sigAmp: sigAmpAll, sigDel: sigDelAll,
  chrom: chromPosAll, notes: notesAll, title: 'All', titleX: 652, titleY: 312 });
gscore({ top: 386, height: 63, min: -0.5, amp: gAmpHigh, del: gDelHigh, sigAmp: sigAmpHigh, sigDel: sigDelHigh,
  chrom: chromPosHigh, notes: notesHigh, title: 'High risk', titleX: 657, titleY: 402 });
gscore({ top: 461, height: 62, min: -1.0, amp: gAmpLow, del: gDelLow, sigAmp: sigAmpLow, sigDel: sigDelLow,
  chrom: chromPosAll, notes: notesLow, title: 'Low risk', titleX: 657, titleY: 468 });

// ----- G -----
graphic.push(T(413, 575, 'G', { size: 15, weight: 'bold' }));
graphic.push(T(555, 598, 'p_star', { size: 9, color: '#222' }));
(function () {
  const g = addGrid({ left: 474, top: 617, width: 236, height: 343 });
  const x = addX({ gridIndex: g, type: 'log', logBase: 10, min: 0.1853, max: 4.71,
    axisLine: { show: true, lineStyle: { color: '#333', width: 0.9 } },
    axisTick: { show: true, length: 3, customValues: xTicksG, lineStyle: { color: '#333', width: 0.8 } },
    axisLabel: { fontSize: 8, margin: 4, color: '#4d4d4d', fontFamily: FF, customValues: xTicksG, formatter: v => Number(v).toFixed(1) },
    minorTick: { show: false }, splitLine: { show: false },
    name: 'OR', nameLocation: 'middle', nameGap: 18, nameTextStyle: { fontSize: 10, color: '#222', fontFamily: FF } });
  const y = addY({ gridIndex: g, type: 'category', data: idG, inverse: true,
    axisLine: { show: true, lineStyle: { color: '#333', width: 0.9 } },
    axisTick: { show: true, length: 2, lineStyle: { color: '#333', width: 0.6 } },
    axisLabel: { fontSize: 5.6, margin: 2, color: '#4d4d4d', fontFamily: FF, interval: 0 },
    name: 'ID', nameLocation: 'middle', nameRotate: 90, nameGap: 50, nameTextStyle: { fontSize: 10, color: '#222', fontFamily: FF } });
  series.push({ type: 'custom', xAxisIndex: x, yAxisIndex: y,
    data: idG.map((id, i) => [loG[i], i, hiG[i]]),
    renderItem: (params, api) => {
      const r = api.value(1), cs = params.coordSys;
      const a = api.coord([api.value(0), r]), b = api.coord([api.value(2), r]);
      const s = { stroke: '#5a5a5a', lineWidth: 0.8 };
      const kids = [
        { type: 'line', shape: { x1: a[0], y1: a[1], x2: b[0], y2: b[1] }, style: s },
        { type: 'line', shape: { x1: a[0], y1: a[1] - 2.2, x2: a[0], y2: a[1] + 2.2 }, style: s },
        { type: 'line', shape: { x1: b[0], y1: b[1] - 2.2, x2: b[0], y2: b[1] + 2.2 }, style: s }
      ];
      if (params.dataIndex === 0) {
        const x1 = api.coord([1, r])[0];
        kids.unshift({ type: 'line', shape: { x1: x1, y1: cs.y, x2: x1, y2: cs.y + cs.height }, style: { stroke: '#b8b8b8', lineWidth: 0.8 } });
      }
      return { type: 'group', children: kids };
    } });
  [['*', '#F8766D'], ['N.S.', '#00BFC4']].forEach(s => series.push({ type: 'scatter', name: s[0], xAxisIndex: x, yAxisIndex: y,
    symbol: 'circle', symbolSize: 4.2, itemStyle: { color: s[1] }, z: 4,
    data: idG.map((id, i) => starG[i] === s[0] ? [orG[i], i] : null).filter(d => d) }));
})();

const chart = echarts.init(document.getElementById('chart'), null, { renderer: 'canvas' });
chart.setOption({
  animation: false,
  textStyle: { fontFamily: FF },
  legend: { data: ['*', 'N.S.'], left: 583, top: 592, itemWidth: 5, itemHeight: 5, itemGap: 6, icon: 'circle',
    textStyle: { fontSize: 8.5, color: '#222', fontFamily: FF }, selectedMode: false },
  grid: grid, xAxis: xAxis, yAxis: yAxis, series: series,
  graphic: { elements: graphic }
});
</script>
</body>
</html>
